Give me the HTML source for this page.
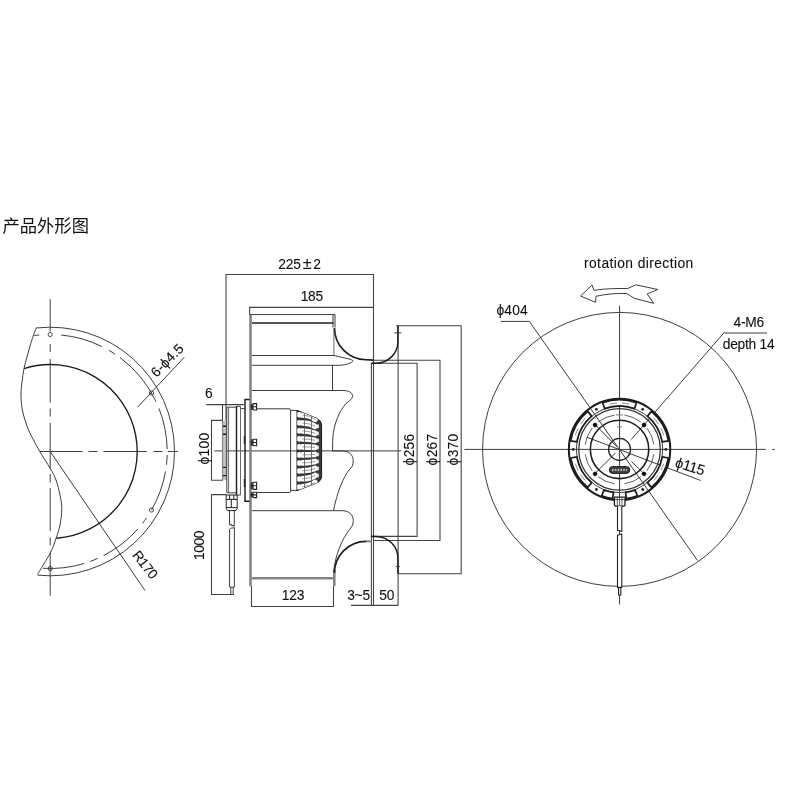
<!DOCTYPE html>
<html lang="zh">
<head>
<meta charset="utf-8">
<title>产品外形图</title>
<style>
html,body{margin:0;padding:0;background:#fff;}
body{width:800px;height:800px;overflow:hidden;position:relative;font-family:"Liberation Sans","Noto Sans CJK SC",sans-serif;}
svg{position:absolute;left:0;top:0;display:block;}
body{filter:grayscale(1);}
h1{position:absolute;left:2.5px;top:215.5px;margin:0;font-size:17.3px;line-height:20px;font-weight:400;color:#111;letter-spacing:0px;white-space:nowrap;}
.l{fill:none;stroke:#383838;stroke-width:0.98;}
.d{fill:none;stroke:#444;stroke-width:1.08;}
.k{fill:none;stroke:#1c1c1c;stroke-width:1.4;}
.k2{fill:none;stroke:#1c1c1c;stroke-width:2;}
.b{fill:none;stroke:#858585;stroke-width:2.6;}
.c{fill:none;stroke:#383838;stroke-width:0.98;}
.f{fill:#222;stroke:none;}
.g{fill:#999;stroke:none;}
.t{fill:#111;stroke:#111;stroke-width:0.1px;letter-spacing:-0.25px;font-family:"Liberation Sans","Noto Sans CJK SC",sans-serif;}
</style>
</head>
<body>
<h1>产品外形图</h1>
<svg width="800" height="800" viewBox="0 0 800 800">
<g id="left-view">
<path class="c" d="M50.2 299 V331.5 M50.2 344 V352 M50.2 359 V402.5 M50.2 408.5 V416.5 M50.2 423 V468.5 M50.2 474 V482.5 M50.2 488 V531 M50.2 537.5 V545.5 M50.2 552.5 V595.7"/>
<path class="c" d="M39.75 451.5 H82.5 M88.5 451.5 H97.5 M103.5 451.5 H146.75 M153.5 451.5 H162.5 M167.75 451.5 H177.8"/>
<path class="l" d="M36.55 327.95 A124.3 124.3 0 1 1 37.41 575.14"/>
<path class="c" d="M34.32 335.58 A117 117 0 0 1 39.19 335.02 M61.21 335.02 A117 117 0 0 1 101.86 346.52 M109.05 350.38 A117 117 0 0 1 114.95 354.05 M119.96 357.57 A117 117 0 0 1 156.06 401.68 M158.98 408.43 A117 117 0 0 1 167.17 449.05 M167.15 454.97 A117 117 0 0 1 166.45 464.74 M165.49 471.41 A117 117 0 0 1 151.52 510 M146.51 517.94 A117 117 0 0 1 142.52 523.37 M137.83 529.03 A117 117 0 0 1 103.68 555.56 M97.6 558.47 A117 117 0 0 1 90.22 561.44 M84.21 563.45 A117 117 0 0 1 43.06 568.28"/>
<path class="k" d="M24.01 368.54 A87 87 0 1 1 56.29 538.29" style="stroke-width:1.35"/>
<path class="l" d="M36.5 327.5 C36 328.75 34.58 331.92 33.5 335 C32.42 338.08 31.08 342.33 30 346 C28.92 349.67 28 353.25 27 357 C26 360.75 24.83 364.33 24 368.5 C23.17 372.67 22.5 377.92 22 382 C21.5 386.08 21.13 390 21 393 C20.87 396 20.98 397.17 21.2 400 C21.42 402.83 21.67 406.67 22.3 410 C22.93 413.33 23.97 416.67 25 420 C26.03 423.33 27.08 426.67 28.5 430 C29.92 433.33 31.63 436.45 33.5 440 C35.37 443.55 36.92 446.55 39.7 451.3 C42.48 456.05 47.48 463.72 50.2 468.5 C52.92 473.28 54.37 475.58 56 480 C57.63 484.42 59.03 490.25 60 495 C60.97 499.75 61.8 503.5 61.8 508.5 C61.8 513.5 60.92 520.12 60 525 C59.08 529.88 57.88 533.08 56.25 537.75 C54.62 542.42 53.38 546.92 50.25 553 C47.12 559.08 39.62 570.71 37.5 574.25"/>
<circle class="l" cx="50.2" cy="334.5" r="2.1" style="stroke-width:0.9"/>
<circle class="l" cx="151.52" cy="393" r="2.1" style="stroke-width:0.9"/>
<circle class="l" cx="151.52" cy="510" r="2.1" style="stroke-width:0.9"/>
<circle class="l" cx="50.2" cy="568.5" r="2.1" style="stroke-width:0.9"/>
<line class="l" x1="50.2" y1="451.5" x2="145" y2="590.5"/>
<text class="t" x="141.3" y="567.5" font-size="13.8" text-anchor="middle" transform="rotate(52 141.3 567.5)" style="letter-spacing:-0.5">R170</text>
<line class="l" x1="137.75" y1="407" x2="184.25" y2="357.25"/>
<text class="t" x="170.6" y="363.6" font-size="13.8" text-anchor="middle" transform="rotate(-45.5 170.6 363.6)" style="letter-spacing:0.15">6-ϕ4.5</text>
</g>
<g id="side-view">
<path class="d" d="M226 420 L226 274.45 L373.5 274.45 L373.5 605.4 M249.6 314.6 L249.6 307.4 L373.5 307.4 M206.25 404.6 L243.75 404.6 M222.5 404.6 L222.5 480.25 L211.5 480.25 L211.5 420.4 L222.5 420.4 M226.25 494.6 L211.5 494.6 L211.5 594.5 L233.75 594.5 M251.5 586 L251.5 606.5 L333.5 606.5 L333.5 586 M351 605.4 L398.1 605.4 M371.4 605.4 L371.4 363.3 L417.1 363.3 L417.1 536.4 L371.4 536.4 M373.5 360.3 L440 360.3 L440 540.5 L373.5 540.5 M396 325.7 L461.2 325.7 L461.2 573.7 L398.1 573.7 M398.1 326 L398.1 605.4"/>
<line class="l" x1="214.4" y1="450.9" x2="401" y2="450.9"/>
<text class="t" x="278.3" y="268.8" font-size="13.8" text-anchor="start">225<tspan dx="2.1" font-size="16">±</tspan><tspan dx="2">2</tspan></text>
<text class="t" x="311.8" y="301.3" font-size="13.8" text-anchor="middle">185</text>
<text class="t" x="208.8" y="397.5" font-size="13.8" text-anchor="middle">6</text>
<text class="t" x="293" y="599.7" font-size="13.8" text-anchor="middle">123</text>
<text class="t" x="358.5" y="599.5" font-size="13.8" text-anchor="middle">3~5</text>
<text class="t" x="386.8" y="599.5" font-size="13.8" text-anchor="middle">50</text>
<text class="t" x="209" y="448.5" font-size="13.8" text-anchor="middle" transform="rotate(-90 209 448.5)" style="letter-spacing:0.3">ϕ100</text>
<text class="t" x="203.6" y="545.4" font-size="13.8" text-anchor="middle" transform="rotate(-90 203.6 545.4)" style="letter-spacing:-0.4">1000</text>
<text class="t" x="413.6" y="449.4" font-size="13.8" text-anchor="middle" transform="rotate(-90 413.6 449.4)" style="letter-spacing:0.3">ϕ256</text>
<text class="t" x="436.8" y="449.4" font-size="13.8" text-anchor="middle" transform="rotate(-90 436.8 449.4)" style="letter-spacing:0.3">ϕ267</text>
<text class="t" x="457.8" y="449.4" font-size="13.8" text-anchor="middle" transform="rotate(-90 457.8 449.4)" style="letter-spacing:0.3">ϕ370</text>
<path class="b" d="M250.5 314.6 V586.2 M334.3 570 V586.2 M252 578.3 H333.5"/>
<path class="l" d="M249.5 314.6 H335 V327.5 M333 314.6 V327.5"/>
<line class="k" x1="252" y1="323" x2="333.5" y2="323" style="stroke-width:1.4"/>
<path class="k" d="M334.5 328 A31.7 31.7 0 0 0 366.2 359.7 L373.5 360.1" style="stroke-width:1.65"/>
<path class="k" d="M371.4 363.3 H376 A21.9 21.9 0 0 0 397.9 341.4 V325.7" style="stroke-width:1.45"/>
<line class="l" x1="333.9" y1="328" x2="333.9" y2="355.5" style="stroke-width:0.9;stroke:#555"/>
<path class="k" d="M334.4 573 A31.8 31.8 0 0 1 366.2 541.3" style="stroke-width:1.65"/>
<path class="b" d="M366 541.4 H371.4" style="stroke-width:2"/>
<path class="k" d="M371.4 536.4 H376 A21.9 21.9 0 0 1 397.9 558.3 V573.7" style="stroke-width:1.45"/>
<line class="l" x1="394.3" y1="332.8" x2="401.3" y2="332.8"/>
<line class="l" x1="395.9" y1="566.6" x2="399.9" y2="566.6"/>
<path class="l" d="M252 355.5 H334 L350.5 359.4 C353.6 360.2 353.6 361.6 350.5 362.8 C346.5 364.6 343 365.3 338 365.3 H252"/>
<line class="l" x1="332.5" y1="365" x2="332.5" y2="390.5"/>
<path class="l" d="M252 390.5 H343 C349 390.5 353 393 352.6 396.5 C352 399.5 349 401 346 403.5 C339.5 411 334 423 332.8 437.5 L332.5 450.9"/>
<path class="l" d="M332.5 450.9 H343 C349 451.2 353.2 455 353.2 460.5 C353.2 464.5 352.8 466 350 469 C343 477 337 493 333.5 510.6"/>
<path class="l" d="M252 510.7 H343 C349 510.9 353.4 515 353.3 520.6 C353.2 524 352.5 526 350 529 C342 538.5 335 556 333.6 572"/>
</g>
<g id="motor">
<rect x="222.6" y="420.4" width="3.8" height="59.8" fill="#c4c4c4"/>
<path d="M222.6 420.4 V480.2 M226.3 420.4 V480.2" stroke="#888" stroke-width="0.9" fill="none"/>
<path class="k" d="M223 426.2 H226 M223 434.2 H226 M223 467.4 H226 M223 475.6 H226"/>
<path class="l" d="M226.8 492.6 V407.2 H236.5 M236.5 406.3 H240.5 M240.5 408.6 H244.8 M226.8 492.8 H236.5 M236.5 495 H240.5"/>
<path class="l" d="M228.6 407.2 V492.6 M240.5 406.3 V495" style="stroke:#666"/>
<path class="k" d="M236.5 406.3 V495"/>
<path class="k" d="M249.6 399.5 H245 V501.2 H249.6"/>
<path class="f" d="M243.8 436 h1.4 v8 h-1.4 z M243.8 479 h1.4 v8 h-1.4 z"/>
<rect x="250.6" y="403.6" width="3" height="6.4" fill="#3a3a3a"/>
<path class="l" d="M253 403.6 H256.6 V410 H253 M250.6 406.8 H256.6" style="stroke-width:1.1;stroke:#222"/>
<rect x="250.6" y="439.2" width="3" height="6.6" fill="#3a3a3a"/>
<path class="l" d="M253 439.2 H256.6 V445.8 H253 M250.6 442.5 H256.6" style="stroke-width:1.1;stroke:#222"/>
<rect x="250.6" y="482.2" width="3" height="7.2" fill="#3a3a3a"/>
<path class="l" d="M253 482.2 H256.6 V489.4 H253 M250.6 485.8 H256.6" style="stroke-width:1.1;stroke:#222"/>
<rect x="250.6" y="492.2" width="3" height="5.4" fill="#3a3a3a"/>
<path class="l" d="M253 492.2 H256.6 V497.6 H253 M250.6 494.9 H256.6" style="stroke-width:1.1;stroke:#222"/>
<path class="l" d="M256.8 408.8 H289.8 L290.8 410.4 H297.2 M256.8 492.5 H289.8 L290.8 490.4 H297.2 M290.6 410 V491 M297.2 410.4 V490.6"/>
<path d="M297.2 410.4 L316.6 418.2 C319.8 419.8 321.6 422 321.6 425.5 V475.8 C321.6 479.5 319.8 481.8 316.6 483 L297.2 490.6 Z" fill="#383838" stroke="#1c1c1c" stroke-width="1"/>
<clipPath id="gc"><path d="M297.2 410.4 L316.6 418.2 C319.8 419.8 321.6 422 321.6 425.5 V475.8 C321.6 479.5 319.8 481.8 316.6 483 L297.2 490.6 Z"/></clipPath>
<g clip-path="url(#gc)"><path d="M302.6 415.04 Q310 415.29 315 419.26 M299.2 414.79 v0.01 M302.6 423.01 Q310 423.21 315 426.29 M299.2 422.81 v0.01 M302.6 430.98 Q310 431.12 315 433.32 M299.2 430.84 v0.01 M302.6 438.95 Q310 439.03 315 440.35 M299.2 438.86 v0.01 M302.6 446.92 Q310 446.94 315 447.38 M299.2 446.89 v0.01 M302.6 454.88 Q310 454.86 315 454.42 M299.2 454.91 v0.01 M302.6 462.85 Q310 462.77 315 461.45 M299.2 462.94 v0.01 M302.6 470.82 Q310 470.68 315 468.48 M299.2 470.96 v0.01 M302.6 478.79 Q310 478.59 315 475.51 M299.2 478.99 v0.01 M302.6 486.76 Q310 486.51 315 482.54 M299.2 487.01 v0.01" fill="none" stroke="#fdfdfd" stroke-width="5.6" stroke-linecap="round"/>
<path d="M302.6 415.04 Q310 415.29 315 419.26 M299.2 414.79 v0.01 M302.6 423.01 Q310 423.21 315 426.29 M299.2 422.81 v0.01 M302.6 430.98 Q310 431.12 315 433.32 M299.2 430.84 v0.01 M302.6 438.95 Q310 439.03 315 440.35 M299.2 438.86 v0.01 M302.6 446.92 Q310 446.94 315 447.38 M299.2 446.89 v0.01 M302.6 454.88 Q310 454.86 315 454.42 M299.2 454.91 v0.01 M302.6 462.85 Q310 462.77 315 461.45 M299.2 462.94 v0.01 M302.6 470.82 Q310 470.68 315 468.48 M299.2 470.96 v0.01 M302.6 478.79 Q310 478.59 315 475.51 M299.2 478.99 v0.01 M302.6 486.76 Q310 486.51 315 482.54 M299.2 487.01 v0.01" fill="none" stroke="#777" stroke-width="0.7"/>
<path d="M304.5 413 V489 M311.5 416 V486" fill="none" stroke="#555" stroke-width="0.8"/>
<path d="M318 425.2 v2.2 M318 432.23 v2.2 M318 439.26 v2.2 M318 446.29 v2.2 M318 453.31 v2.2 M318 460.34 v2.2 M318 467.37 v2.2 M318 474.4 v2.2" fill="none" stroke="#f4f4f4" stroke-width="1.7" stroke-linecap="round"/></g>
<path class="l" d="M226.2 495 H237.2 V508.5 L236 510.6 H227.4 L226.2 508.5 Z M226.2 499.4 H237.2 M226.2 507.6 H237.2 M231.3 499.4 V507.6 M229.6 495 V499.4 M233.8 495 V499.4" style="stroke:#222;stroke-width:1"/>
<path class="l" d="M229.5 510.6 V524.6 L234.3 525.8 V510.6 M229.5 524.6 C231 523.8 232.5 526.6 234.3 525.8 M229.6 529.2 C231 527.2 233 528.6 234.4 527.4 M229.6 529.2 V587.2 H234.4 V527.4 M230.8 587.2 V594.5 H233.2 V587.2"/>
</g>
<g id="right-view">
<circle class="l" cx="619.55" cy="449.4" r="137" style="stroke:#3a3a3a"/>
<line class="l" x1="464.4" y1="449.4" x2="765.8" y2="449.4"/>
<line class="l" x1="772.2" y1="449.4" x2="774.8" y2="449.4"/>
<line class="l" x1="619.55" y1="305.8" x2="619.55" y2="604.5"/>
<path class="l" d="M500.75 321.4 H529.3 L697.5 560.5"/>
<path class="l" d="M767 333 H723.75 L631.25 439.5"/>
<line class="l" x1="587" y1="437.25" x2="700.7" y2="480.5"/>
<path class="l" d="M594.8 473.7 L615.5 453 M595 424.5 L617 446.8 M631.5 461.5 L644.5 474.2"/>
<text class="t" x="512.2" y="315" font-size="13.8" text-anchor="middle" style="letter-spacing:0.2">ϕ404</text>
<text class="t" x="748.8" y="327.4" font-size="13.8" text-anchor="middle">4-M6</text>
<text class="t" x="748.6" y="348.8" font-size="13.8" text-anchor="middle">depth 14</text>
<text class="t" x="638.8" y="268.2" font-size="13.8" text-anchor="middle" style="letter-spacing:0.42">rotation direction</text>
<text class="t" x="688.6" y="471.2" font-size="14.4" text-anchor="middle" transform="rotate(17 688.6 471.2)">ϕ115</text>
<path class="l" d="M580.6 296 L592 285 L594 290.3 C605 288.6 616 288.4 627.7 288.5 L635.8 284.8 L657.75 289.5 L647.2 293.9 L653.7 303.3 L634.2 298.3 L626.9 293.5 C616 293.3 606 293.9 596 296.3 L595.5 302.3 Z"/>
<circle class="k" cx="619.55" cy="449.4" r="50.7" style="stroke-width:2"/>
<circle class="l" cx="619.55" cy="449.4" r="43.2"/>
<circle class="l" cx="619.55" cy="449.4" r="40.8" style="stroke-width:1.3"/>
<path class="l" d="M646.89 428.04 A34.7 34.7 0 0 1 653.91 444.57 M598.19 422.06 A34.7 34.7 0 0 1 614.72 415.04 M592.21 470.76 A34.7 34.7 0 0 1 585.19 454.23 M640.91 476.74 A34.7 34.7 0 0 1 624.38 483.76 M653.91 454.23 A34.7 34.7 0 0 1 646.89 470.76 M624.38 415.04 A34.7 34.7 0 0 1 640.91 422.06 M585.19 444.57 A34.7 34.7 0 0 1 592.21 428.04 M614.72 483.76 A34.7 34.7 0 0 1 598.19 476.74" style="stroke-width:0.8"/>
<circle class="k" cx="619.55" cy="449.4" r="29.2" style="stroke-width:1.6"/>
<circle class="k" cx="619.55" cy="449.4" r="11" style="stroke-width:1.2"/>
<path d="M647.45 416.15 L651.43 411.4 A49.6 49.6 0 0 1 668.4 440.79 L662.29 441.86 A43.4 43.4 0 0 0 647.45 416.15 Z M604.71 408.62 L602.59 402.79 A49.6 49.6 0 0 1 636.51 402.79 L634.39 408.62 A43.4 43.4 0 0 0 604.71 408.62 Z M576.81 441.86 L570.7 440.79 A49.6 49.6 0 0 1 587.67 411.4 L591.65 416.15 A43.4 43.4 0 0 0 576.81 441.86 Z M591.65 482.65 L587.67 487.4 A49.6 49.6 0 0 1 570.7 458.01 L576.81 456.94 A43.4 43.4 0 0 0 591.65 482.65 Z M662.29 456.94 L668.4 458.01 A49.6 49.6 0 0 1 651.43 487.4 L647.45 482.65 A43.4 43.4 0 0 0 662.29 456.94 Z M613.51 492.38 L612.65 498.52 A49.6 49.6 0 0 1 601.77 495.71 L604 489.92 A43.4 43.4 0 0 0 613.51 492.38 Z M635.1 489.92 L637.33 495.71 A49.6 49.6 0 0 1 626.45 498.52 L625.59 492.38 A43.4 43.4 0 0 0 635.1 489.92 Z" fill="#fff" stroke="#1c1c1c" stroke-width="1.7" stroke-linejoin="round"/>
<path class="l" d="M654.03 418.35 A46.4 46.4 0 0 1 658.46 424.13 M609.9 404.01 A46.4 46.4 0 0 1 617.12 403.06 M575.42 435.06 A46.4 46.4 0 0 1 578.21 428.33 M585.07 480.45 A46.4 46.4 0 0 1 580.64 474.67 M663.68 463.74 A46.4 46.4 0 0 1 660.89 470.47 M660.89 428.33 A46.4 46.4 0 0 1 663.68 435.06 M621.98 403.06 A46.4 46.4 0 0 1 629.2 404.01 M580.64 424.13 A46.4 46.4 0 0 1 585.07 418.35 M578.21 470.47 A46.4 46.4 0 0 1 575.42 463.74 M658.46 474.67 A46.4 46.4 0 0 1 654.03 480.45" style="stroke-width:0.6"/>
<circle class="f" cx="665.85" cy="449.4" r="1.4"/>
<circle class="f" cx="642.7" cy="409.3" r="1.4"/>
<circle class="f" cx="596.4" cy="409.3" r="1.4"/>
<circle class="f" cx="573.25" cy="449.4" r="1.4"/>
<circle class="f" cx="596.4" cy="489.5" r="1.4"/>
<circle class="f" cx="642.7" cy="489.5" r="1.4"/>
<path class="l" d="M640.52 424.93 h7 M644.02 421.43 v7" style="stroke-width:0.5;stroke:#888"/>
<circle class="f" cx="644.02" cy="424.93" r="2.2" style="fill:#111"/>
<path class="l" d="M591.58 424.93 h7 M595.08 421.43 v7" style="stroke-width:0.5;stroke:#888"/>
<circle class="f" cx="595.08" cy="424.93" r="2.2" style="fill:#111"/>
<path class="l" d="M591.58 473.87 h7 M595.08 470.37 v7" style="stroke-width:0.5;stroke:#888"/>
<circle class="f" cx="595.08" cy="473.87" r="2.2" style="fill:#111"/>
<path class="l" d="M640.52 473.87 h7 M644.02 470.37 v7" style="stroke-width:0.5;stroke:#888"/>
<circle class="f" cx="644.02" cy="473.87" r="2.2" style="fill:#111"/>
<path class="l" d="M616 414.9 H623 M617.1 426.9 H622" style="stroke:#777"/>
<rect x="609.3" y="466.6" width="20.5" height="6.8" rx="3.4" fill="#444" stroke="#1c1c1c" stroke-width="1"/>
<path d="M612 470 H627" stroke="#bbb" stroke-width="2.2" stroke-dasharray="1.6 1.2" fill="none"/>
<path d="M614.4 497.2 H625 V505 L624 506.2 H615.4 L614.4 505 Z" fill="#fff" stroke="#1c1c1c" stroke-width="1.3"/>
<path class="l" d="M617.3 497.4 V506 M619.6 497.4 V506 M622 497.4 V506 M614.4 499.6 H625" style="stroke-width:0.8"/>
<path d="M617.5 506.2 V530.4 L621.8 531.4 V506.2 M617.5 535.2 L621.8 534 V587.4 H617.5 Z M618.6 587.4 V595 H620.8 V587.4" fill="#fff" stroke="#222" stroke-width="1.1"/>
</g>
</svg>
</body>
</html>
